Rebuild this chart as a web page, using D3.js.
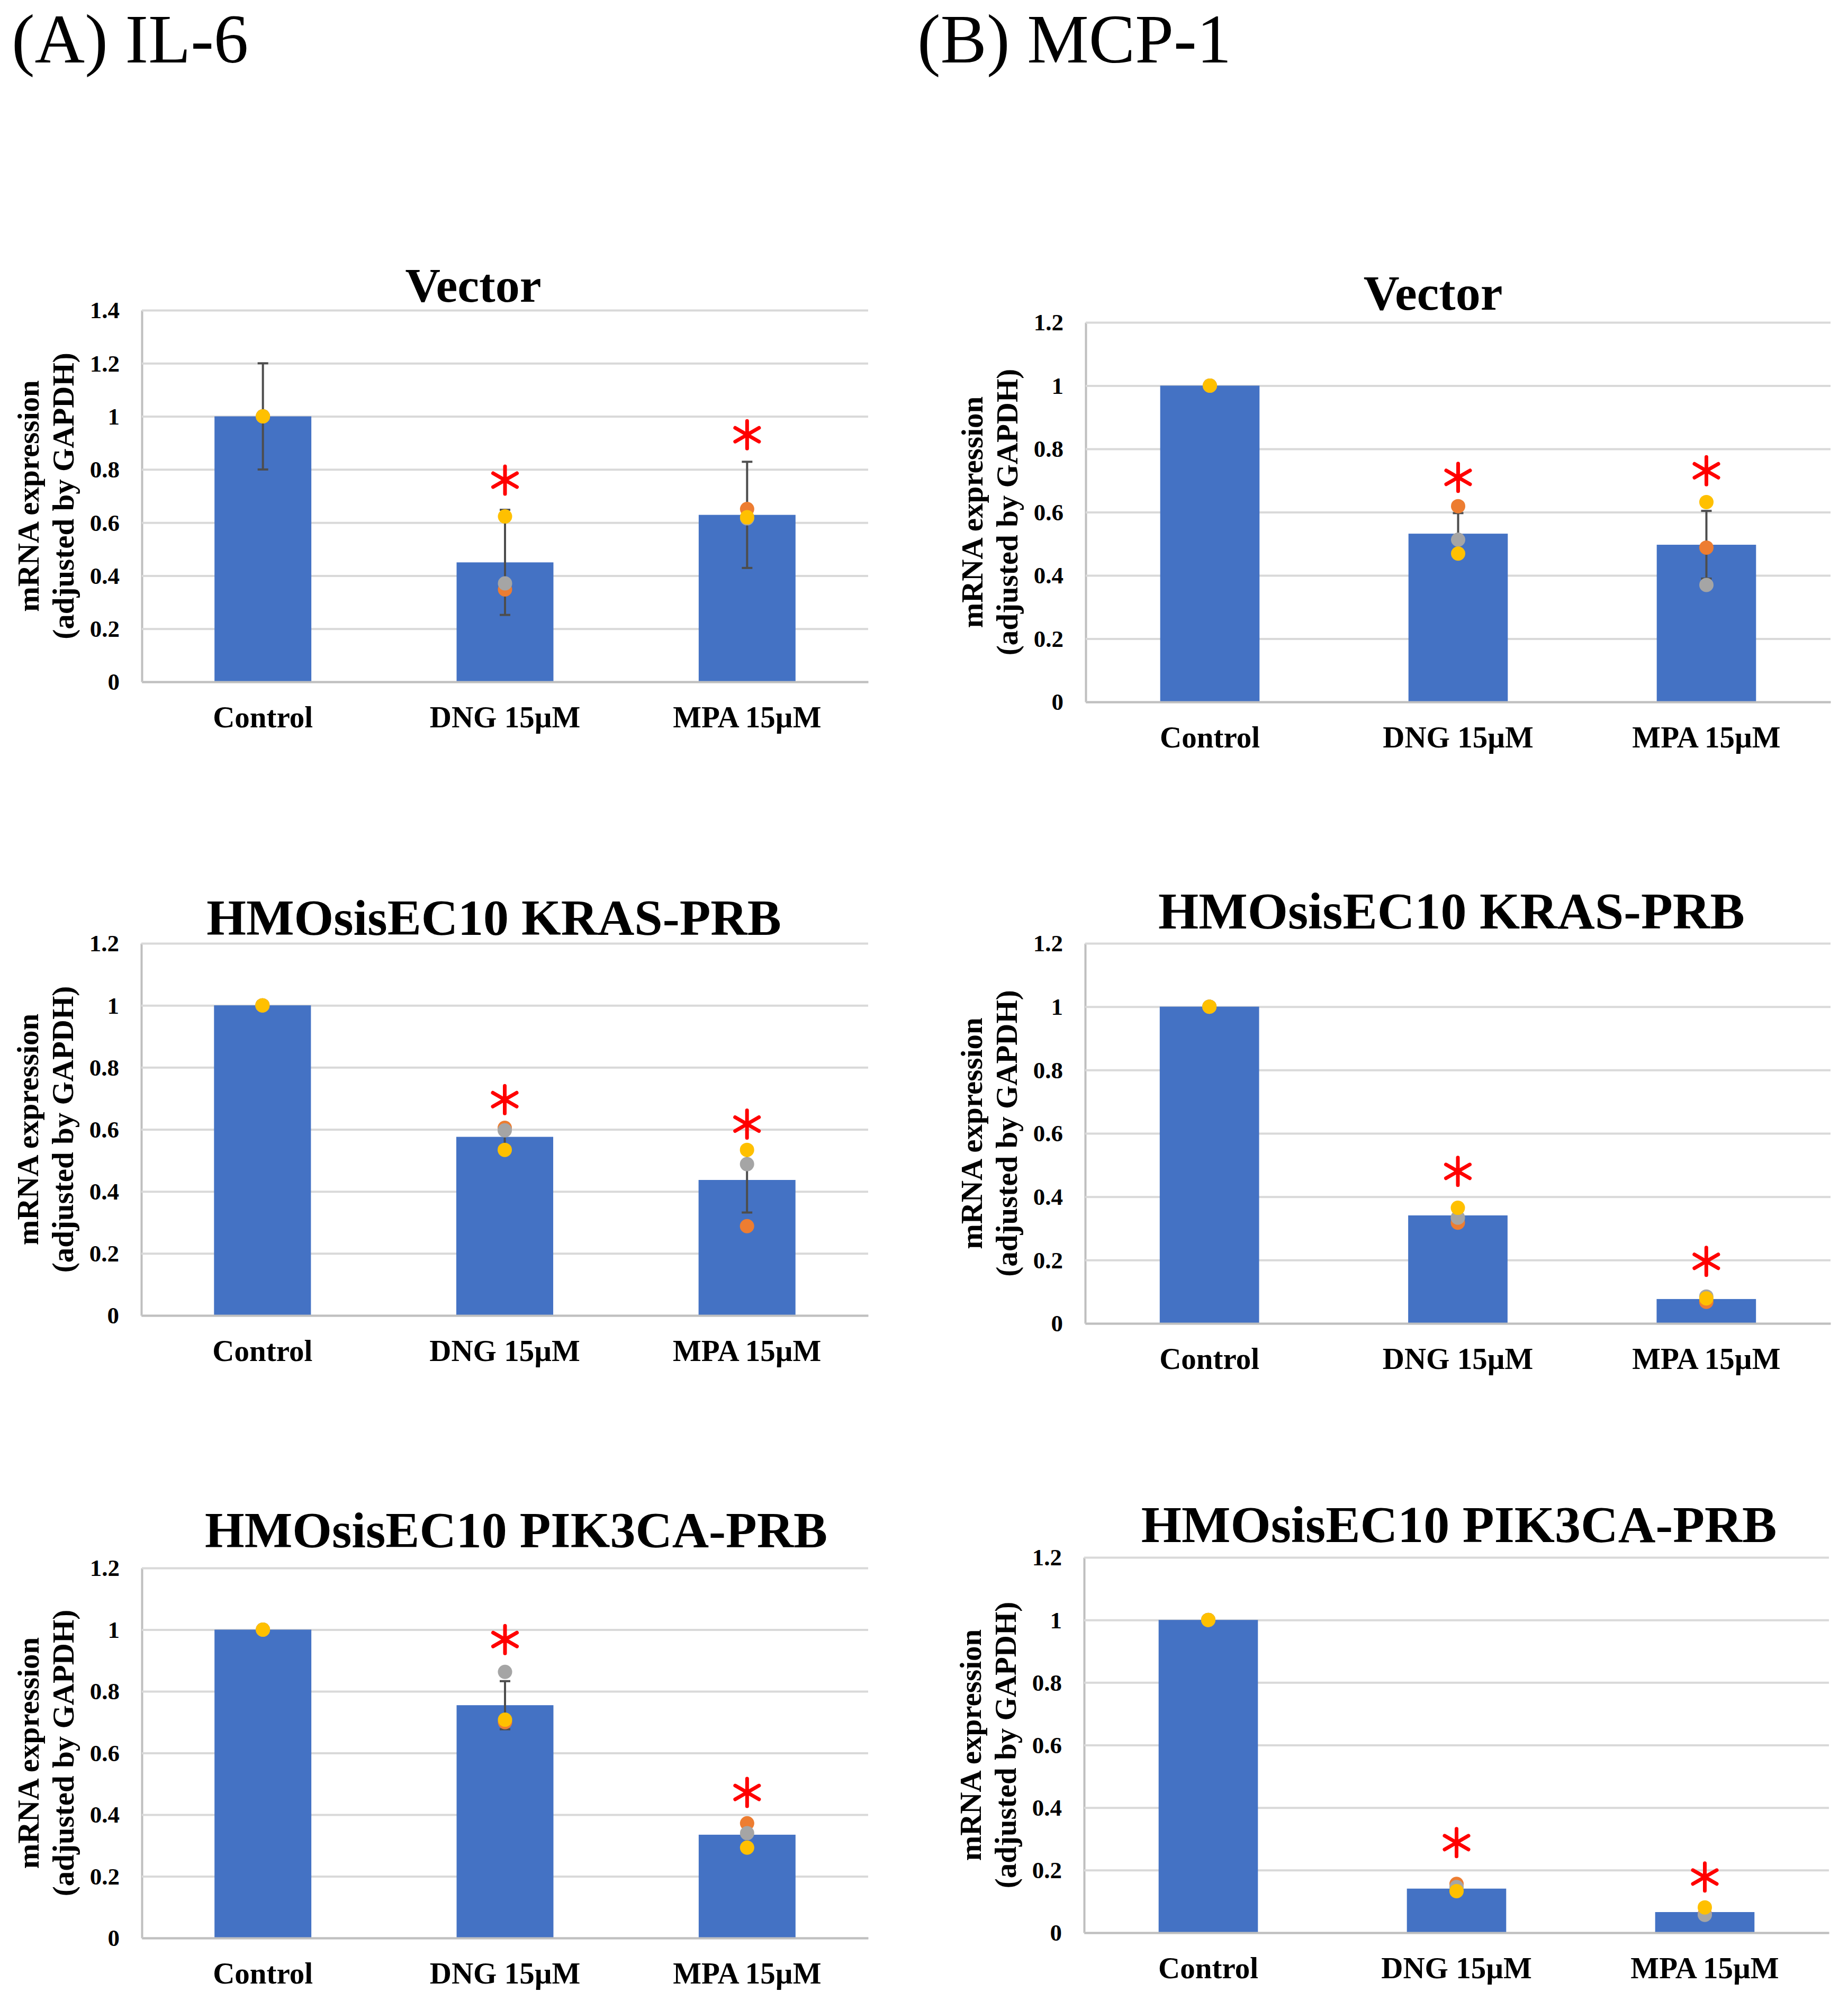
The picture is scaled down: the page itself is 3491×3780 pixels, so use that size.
<!DOCTYPE html>
<html>
<head>
<meta charset="utf-8">
<script src="https://cdn.jsdelivr.net/npm/d3@7"></script>
<style>
  html, body { margin: 0; padding: 0; background: #ffffff; }
  svg { display: block; }
</style>
</head>
<body>
<script>
// ---------------- DATA ----------------
const categories = ["Control", "DNG 15\u00B5M", "MPA 15\u00B5M"];
const headers = ["(A) IL-6", "(B) MCP-1"];
const panelTitles = ["Vector", "HMOsisEC10 KRAS-PRB", "HMOsisEC10 PIK3CA-PRB"];
const yLabelLines = ["mRNA expression", "(adjusted by GAPDH)"];
const ticks14 = [0, 0.2, 0.4, 0.6, 0.8, 1, 1.2, 1.4];
const ticks12 = [0, 0.2, 0.4, 0.6, 0.8, 1, 1.2];

// IL-6 / Vector
const il6VectorMean   = [1.0, 0.450, 0.629];
const il6VectorErr    = [0.2, 0.198, 0.200];
const il6VectorOrange = [1.0, 0.348, 0.651];
const il6VectorGray   = [1.0, 0.371, 0.616];
const il6VectorYellow = [1.0, 0.623, 0.620];
const il6VectorStar   = [null, 0.760, 0.931];
// IL-6 / KRAS-PRB
const il6KrasMean   = [1.0, 0.576, 0.437];
const il6KrasErr    = [0, 0.035, 0.105];
const il6KrasOrange = [1.0, 0.605, 0.288];
const il6KrasGray   = [1.0, 0.597, 0.488];
const il6KrasYellow = [1.0, 0.534, 0.534];
const il6KrasStar   = [null, 0.696, 0.617];
// IL-6 / PIK3CA-PRB
const il6PikMean   = [1.0, 0.755, 0.335];
const il6PikErr    = [0, 0.078, 0.040];
const il6PikOrange = [1.0, 0.700, 0.372];
const il6PikGray   = [1.0, 0.863, 0.340];
const il6PikYellow = [1.0, 0.708, 0.293];
const il6PikStar   = [null, 0.968, 0.472];
// MCP-1 / Vector
const mcpVectorMean   = [1.0, 0.532, 0.497];
const mcpVectorErr    = [0, 0.065, 0.107];
const mcpVectorOrange = [1.0, 0.619, 0.488];
const mcpVectorGray   = [1.0, 0.513, 0.370];
const mcpVectorYellow = [1.0, 0.469, 0.632];
const mcpVectorStar   = [null, 0.710, 0.731];
// MCP-1 / KRAS-PRB
const mcpKrasMean   = [1.0, 0.341, 0.077];
const mcpKrasErr    = [0, 0.024, 0.008];
const mcpKrasOrange = [1.0, 0.318, 0.068];
const mcpKrasGray   = [1.0, 0.334, 0.085];
const mcpKrasYellow = [1.0, 0.365, 0.079];
const mcpKrasStar   = [null, 0.480, 0.196];
// MCP-1 / PIK3CA-PRB
const mcpPikMean   = [1.0, 0.141, 0.066];
const mcpPikErr    = [0, 0.012, 0.013];
const mcpPikOrange = [1.0, 0.156, 0.060];
const mcpPikGray   = [1.0, 0.146, 0.057];
const mcpPikYellow = [1.0, 0.133, 0.081];
const mcpPikStar   = [null, 0.288, 0.178];

// ---------------- LAYOUT ----------------
const W = 3491, H = 3780;
const FONT = "'Liberation Serif', 'Times New Roman', Times, serif";
const COLORS = { bar: "#4472C4", orange: "#ED7D31", gray: "#A5A5A5", yellow: "#FFC000",
                 grid: "#D9D9D9", axis: "#BFBFBF", err: "#4D4D4D", star: "#FF0000" };

const panels = [
  { title: panelTitles[0], mean: il6VectorMean, err: il6VectorErr, orange: il6VectorOrange, gray: il6VectorGray, yellow: il6VectorYellow, star: il6VectorStar, ticks: ticks14,
    x0: 268, x1: 1640, yTop: 586, yZero: 1288, tx: 894, ty: 570, ts: 92 },
  { title: panelTitles[1], mean: il6KrasMean, err: il6KrasErr, orange: il6KrasOrange, gray: il6KrasGray, yellow: il6KrasYellow, star: il6KrasStar, ticks: ticks12,
    x0: 267, x1: 1640, yTop: 1782, yZero: 2485, tx: 933, ty: 1766, ts: 96 },
  { title: panelTitles[2], mean: il6PikMean, err: il6PikErr, orange: il6PikOrange, gray: il6PikGray, yellow: il6PikYellow, star: il6PikStar, ticks: ticks12,
    x0: 268, x1: 1640, yTop: 2962, yZero: 3661, tx: 975, ty: 2923, ts: 96 },
  { title: panelTitles[0], mean: mcpVectorMean, err: mcpVectorErr, orange: mcpVectorOrange, gray: mcpVectorGray, yellow: mcpVectorYellow, star: mcpVectorStar, ticks: ticks12,
    x0: 2051, x1: 3458, yTop: 609, yZero: 1326, tx: 2707, ty: 585, ts: 94 },
  { title: panelTitles[1], mean: mcpKrasMean, err: mcpKrasErr, orange: mcpKrasOrange, gray: mcpKrasGray, yellow: mcpKrasYellow, star: mcpKrasStar, ticks: ticks12,
    x0: 2050, x1: 3458, yTop: 1782, yZero: 2500, tx: 2742, ty: 1754, ts: 98 },
  { title: panelTitles[2], mean: mcpPikMean, err: mcpPikErr, orange: mcpPikOrange, gray: mcpPikGray, yellow: mcpPikYellow, star: mcpPikStar, ticks: ticks12,
    x0: 2048, x1: 3455, yTop: 2942, yZero: 3651, tx: 2756, ty: 2913, ts: 98 }
];

const svg = d3.select("body").append("svg")
  .attr("width", W).attr("height", H)
  .attr("viewBox", `0 0 ${W} ${H}`)
  .style("font-family", FONT);

svg.append("rect").attr("width", W).attr("height", H).attr("fill", "#ffffff");

// headers
svg.append("text").attr("x", 22).attr("y", 118).attr("font-size", 131)
  .attr("fill", "#000").text(headers[0]);
svg.append("text").attr("x", 1733).attr("y", 118).attr("font-size", 131)
  .attr("fill", "#000").text(headers[1]);

const starSymbol = d3.symbolAsterisk
  ? d3.symbol(d3.symbolAsterisk, 1913)
  : null;

panels.forEach(p => {
  const g = svg.append("g");
  const plotW = p.x1 - p.x0;
  const yMax = d3.max(p.ticks);

  const x = d3.scaleBand().domain(categories).range([p.x0, p.x1])
    .paddingInner(0.6).paddingOuter(0.3);
  const y = d3.scaleLinear().domain([0, yMax]).range([p.yZero, p.yTop]);

  // gridlines + y tick labels
  const yAxis = d3.axisLeft(y).tickValues(p.ticks.filter(t => t > 0).concat([0]))
    .tickSize(-plotW).tickSizeOuter(0).tickPadding(42)
    .tickFormat(d3.format("~g"));
  const ya = g.append("g").attr("transform", `translate(${p.x0},0)`).call(yAxis);
  ya.select(".domain").attr("stroke", COLORS.axis).attr("stroke-width", 4);
  ya.selectAll(".tick line").attr("stroke", COLORS.grid).attr("stroke-width", 4);
  ya.selectAll(".tick text").attr("font-family", FONT).attr("font-size", 45)
    .attr("font-weight", "bold").attr("fill", "#000").attr("dy", "0.33em");

  // bars
  g.append("g").selectAll("rect").data(categories).join("rect")
    .attr("x", d => x(d))
    .attr("width", x.bandwidth())
    .attr("y", (d, i) => y(p.mean[i]))
    .attr("height", (d, i) => y(0) - y(p.mean[i]))
    .attr("fill", COLORS.bar);

  // x axis
  const xAxis = d3.axisBottom(x).tickSize(0).tickSizeOuter(0).tickPadding(46);
  const xa = g.append("g").attr("transform", `translate(0,${p.yZero})`).call(xAxis);
  xa.select(".domain").attr("stroke", COLORS.axis).attr("stroke-width", 4);
  xa.selectAll(".tick text").attr("font-family", FONT).attr("font-size", 57)
    .attr("font-weight", "bold").attr("fill", "#000");

  // error bars
  const eb = g.append("g").attr("stroke", COLORS.err).attr("stroke-width", 4);
  categories.forEach((c, i) => {
    const e = p.err[i];
    if (!e) return;
    const cx = x(c) + x.bandwidth() / 2;
    const yl = y(p.mean[i] - e), yh = y(p.mean[i] + e);
    eb.append("line").attr("x1", cx).attr("x2", cx).attr("y1", yl).attr("y2", yh);
    eb.append("line").attr("x1", cx - 10).attr("x2", cx + 10).attr("y1", yl).attr("y2", yl);
    eb.append("line").attr("x1", cx - 10).attr("x2", cx + 10).attr("y1", yh).attr("y2", yh);
  });

  // replicate points: orange, gray, yellow (draw order)
  [["orange", p.orange], ["gray", p.gray], ["yellow", p.yellow]].forEach(([key, vals]) => {
    g.append("g").selectAll("circle").data(categories).join("circle")
      .attr("cx", d => x(d) + x.bandwidth() / 2)
      .attr("cy", (d, i) => y(vals[i]))
      .attr("r", 13.5)
      .attr("fill", COLORS[key]);
  });

  // significance stars
  categories.forEach((c, i) => {
    const s = p.star[i];
    if (s == null) return;
    const cx = x(c) + x.bandwidth() / 2;
    if (starSymbol) {
      g.append("path").attr("d", starSymbol())
        .attr("transform", `translate(${cx},${y(s)})`)
        .attr("fill", "none").attr("stroke", COLORS.star)
        .attr("stroke-width", 7).attr("stroke-linecap", "round");
    } else {
      g.append("text").attr("x", cx).attr("y", y(s) + 30).attr("text-anchor", "middle")
        .attr("font-size", 120).attr("fill", COLORS.star).text("*");
    }
  });

  // title
  g.append("text").attr("x", p.tx).attr("y", p.ty)
    .attr("text-anchor", "middle").attr("font-size", p.ts).attr("font-weight", "bold")
    .attr("fill", "#000").text(p.title);

  // y axis label (two lines, rotated)
  const cy = (p.yTop + p.yZero) / 2;
  const offs = [-195, -129];
  yLabelLines.forEach((t, k) => {
    const lx = p.x0 + offs[k];
    g.append("text")
      .attr("transform", `translate(${lx},${cy}) rotate(-90)`)
      .attr("text-anchor", "middle")
      .attr("font-size", 57).attr("font-weight", "bold")
      .attr("fill", "#000").text(t);
  });
});
</script>
</body>
</html>
